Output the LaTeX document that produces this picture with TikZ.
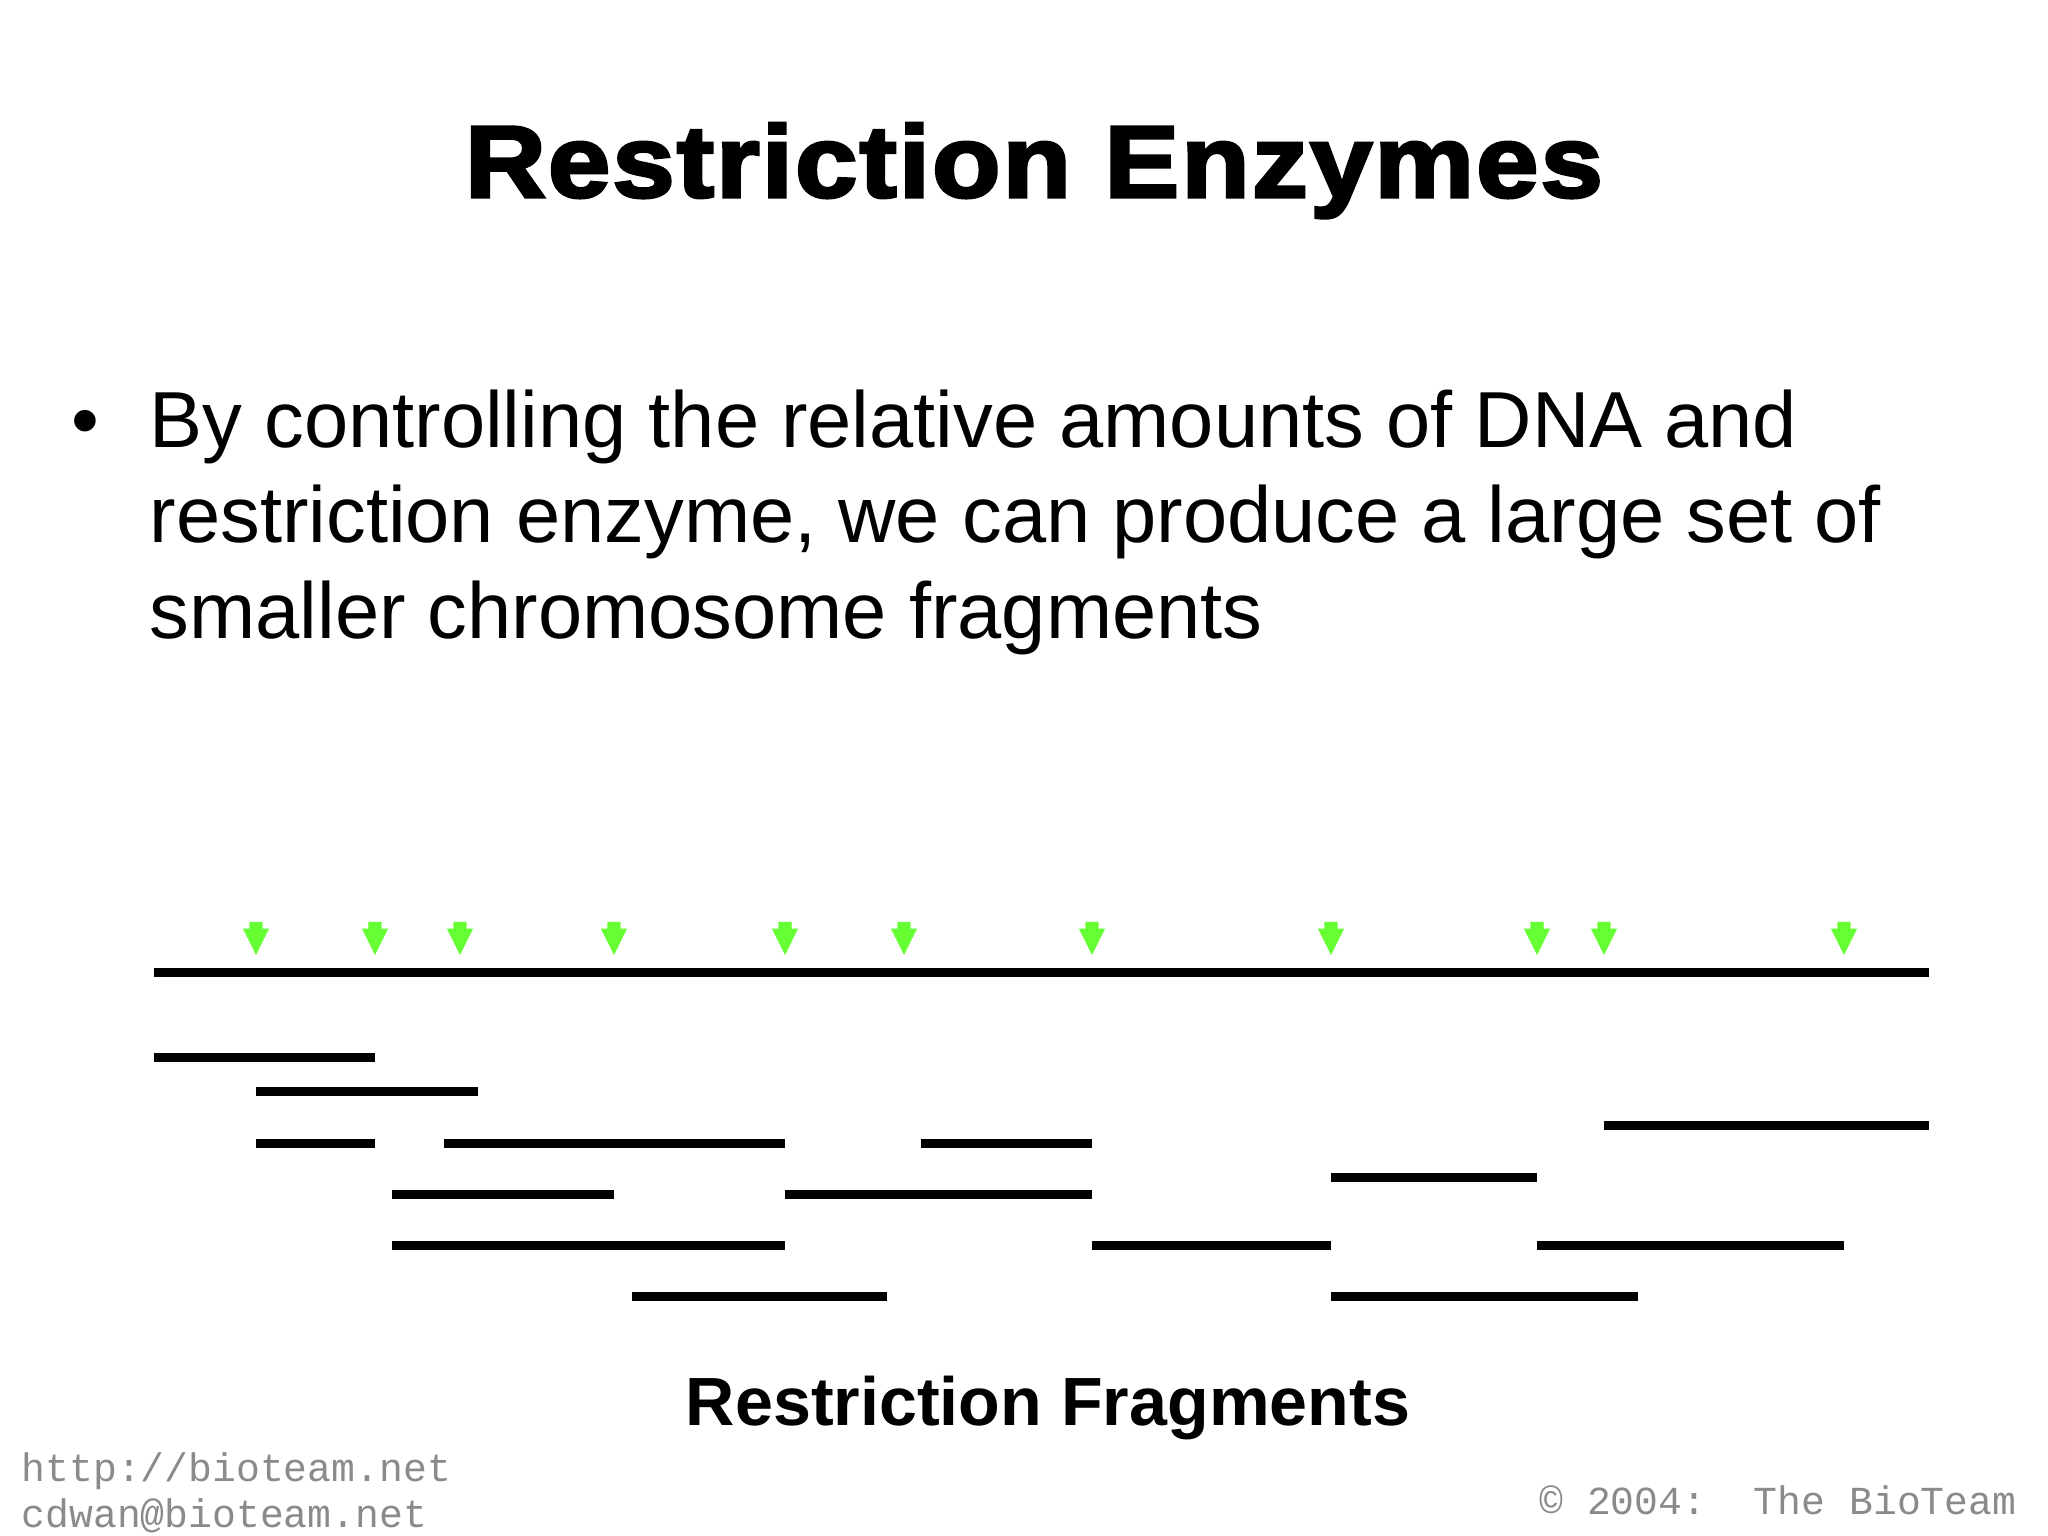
\documentclass[tikz,border=0pt]{standalone}
\usepackage{fontspec}
\usepackage{xcolor}
\setmainfont{Liberation Sans}
\newfontfamily\titlefont[FakeBold=3,FakeStretch=1.1,LetterSpace=2]{Liberation Sans Bold}
\newfontfamily\footfont{Liberation Mono}
\usetikzlibrary{positioning,shapes.arrows}
\definecolor{cutgreen}{HTML}{66FF33}
\definecolor{footgray}{HTML}{8A8A8A}

\begin{document}
\begin{tikzpicture}[x=0.01cm, y=-0.01cm,
  cutsite/.style={shape=single arrow,rotate=-90,anchor=tip,fill=cutgreen,inner sep=0pt,outer sep=0pt,
    text height=0.12cm,text depth=0pt,minimum height=0.33cm,single arrow head extend=0.065cm,
    single arrow tip angle=53,single arrow head indent=0pt},
  frag/.style={line width=0.09cm},
  body/.style={anchor=base west,inner sep=0pt,font=\fontsize{22.6}{27}\selectfont},
  foot/.style={anchor=base west,inner sep=0pt,text=footgray,font=\footfont\fontsize{11.3}{13}\selectfont}]
\useasboundingbox (0,0) rectangle (2048,1536);

\node[anchor=base,inner sep=0pt,font=\titlefont\fontsize{29}{34}\selectfont] (title) at (1034,197) {Restriction Enzymes};

\node[body,anchor=base] (bullet) at (85,447) {•};
\node[body] (line1) at (149,447) {By controlling the relative amounts of DNA and};
\node[body] (line2) at (149,542) {restriction enzyme, we can produce a large set of};
\node[body] (line3) at (149,638) {smaller chromosome fragments};

% cut sites
\node[cutsite] (cut1) at (256,955) {};
\node[cutsite] (cut2) at (375,955) {};
\node[cutsite] (cut3) at (460,955) {};
\node[cutsite] (cut4) at (614,955) {};
\node[cutsite] (cut5) at (785,955) {};
\node[cutsite] (cut6) at (904,955) {};
\node[cutsite] (cut7) at (1092,955) {};
\node[cutsite] (cut8) at (1331,955) {};
\node[cutsite] (cut9) at (1537,955) {};
\node[cutsite] (cut10) at (1604,955) {};
\node[cutsite] (cut11) at (1844,955) {};

% chromosome
\draw[frag] (154,972) -- (1929,972);

% fragments
\draw[frag] (154,1057) -- (375,1057);
\draw[frag] (256,1091) -- (478,1091);
\draw[frag] (256,1143) -- (375,1143);
\draw[frag] (444,1143) -- (785,1143);
\draw[frag] (921,1143) -- (1092,1143);
\draw[frag] (392,1194) -- (614,1194);
\draw[frag] (785,1194) -- (1092,1194);
\draw[frag] (392,1245) -- (785,1245);
\draw[frag] (1092,1245) -- (1331,1245);
\draw[frag] (1537,1245) -- (1844,1245);
\draw[frag] (632,1296) -- (887,1296);
\draw[frag] (1331,1296) -- (1638,1296);
\draw[frag] (1331,1177) -- (1537,1177);
\draw[frag] (1604,1125) -- (1929,1125);

\node[anchor=base,inner sep=0pt,font=\bfseries\fontsize{19.4}{24}\selectfont] (label) at (1048,1425) {Restriction Fragments};

\node[foot] (url) at (21,1481) {http://bioteam.net};
\node[foot] (mail) at (21,1527) {cdwan@bioteam.net};
\node[foot,anchor=base east] (copy) at (2017,1514) {© 2004:\ \ The BioTeam};
\end{tikzpicture}
\end{document}
